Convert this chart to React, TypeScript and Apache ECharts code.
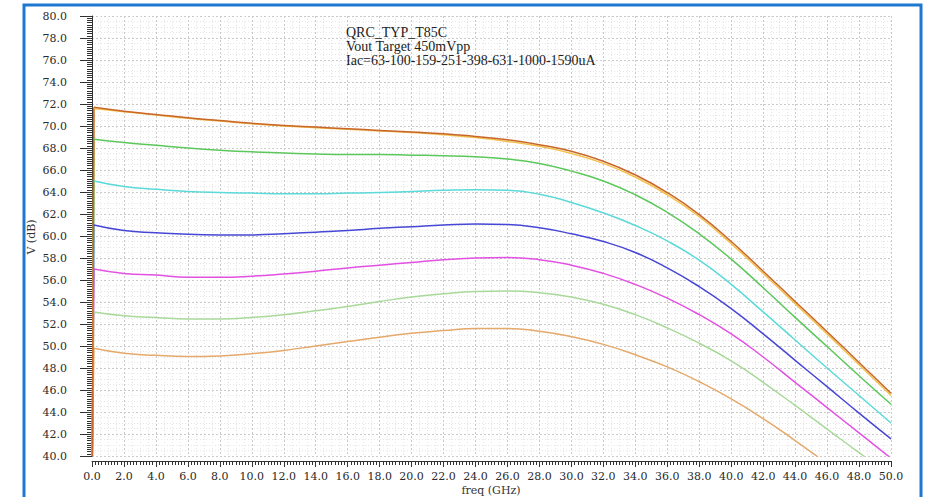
import React, { useEffect, useRef } from "react";
import * as echarts from "echarts";

// Frequency samples (GHz)
const freqGHz = [0, 2, 4, 6, 8, 10, 12, 14, 16, 18, 20, 22, 24, 26, 28, 30, 32, 34, 36, 38, 40, 42, 44, 46, 48, 50];
// DC step: rises from the bottom of the plot at dcStartFreq to the first value at dcStepFreq
const dcStartFreq = 0.02;
const dcStepFreq = 0.12;

// Gain (dB) per bias current
const iac63 = [49.8, 49.35, 49.15, 49.05, 49.1, 49.3, 49.6, 50.0, 50.4, 50.8, 51.15, 51.4, 51.6, 51.6, 51.35, 50.85, 50.15, 49.2, 48.1, 46.75, 45.2, 43.4, 41.4, 39.3, 37.2, 35.1];
const iac100 = [53.1, 52.75, 52.6, 52.45, 52.45, 52.6, 52.85, 53.2, 53.6, 54.05, 54.45, 54.75, 54.95, 55.0, 54.85, 54.45, 53.8, 52.85, 51.65, 50.25, 48.65, 46.7, 44.6, 42.45, 40.3, 38.2];
const iac159 = [57.0, 56.6, 56.45, 56.25, 56.25, 56.35, 56.55, 56.8, 57.1, 57.35, 57.6, 57.85, 58.0, 58.05, 57.85, 57.35, 56.6, 55.6, 54.35, 52.85, 51.1, 49.0, 46.7, 44.4, 42.1, 39.8];
const iac251 = [61.0, 60.5, 60.3, 60.15, 60.1, 60.1, 60.2, 60.35, 60.5, 60.7, 60.85, 61.0, 61.1, 61.05, 60.75, 60.2, 59.5, 58.5, 57.1, 55.4, 53.4, 51.1, 48.7, 46.3, 43.9, 41.55];
const iac398 = [65.0, 64.5, 64.25, 64.05, 63.95, 63.9, 63.85, 63.85, 63.9, 63.95, 64.05, 64.15, 64.2, 64.15, 63.8, 63.05, 62.1, 60.95, 59.55, 57.8, 55.6, 53.1, 50.55, 48.0, 45.5, 43.0];
const iac631 = [68.8, 68.5, 68.25, 68.0, 67.8, 67.65, 67.55, 67.45, 67.4, 67.4, 67.35, 67.3, 67.2, 67.0, 66.6, 65.9, 65.0, 63.75, 62.15, 60.2, 57.9, 55.3, 52.6, 49.95, 47.3, 44.7];
const iac1000 = [71.6, 71.3, 71.0, 70.7, 70.45, 70.2, 70.0, 69.85, 69.7, 69.55, 69.4, 69.2, 68.95, 68.6, 68.15, 67.5, 66.6, 65.35, 63.75, 61.75, 59.3, 56.6, 53.85, 51.1, 48.3, 45.5];
const iac1590 = [71.7, 71.35, 71.05, 70.75, 70.5, 70.25, 70.05, 69.9, 69.75, 69.6, 69.45, 69.3, 69.05, 68.75, 68.3, 67.7, 66.8, 65.55, 63.95, 61.95, 59.5, 56.8, 54.05, 51.3, 48.5, 45.7];

const seriesNames = ["63uA", "100uA", "159uA", "251uA", "398uA", "631uA", "1000uA", "1590uA"];
const seriesValues = [iac63, iac100, iac159, iac251, iac398, iac631, iac1000, iac1590];
const seriesColors = ["#e5a96b", "#a9d99a", "#e251e2", "#4747d6", "#5cd9d9", "#5cc85c", "#f3c14e", "#c9672b"];

const xMin = 0, xMax = 50, xStep = 2;
const yMin = 40, yMax = 80, yStep = 2;

const annotationLines = ["QRC_TYP_T85C", "Vout Target 450mVpp", "Iac=63-100-159-251-398-631-1000-1590uA"];
const xTitle = "freq (GHz)";
const yTitle = "V (dB)";

const tickFont = "DejaVu Serif";
const fmt = (v: number) => v.toFixed(1);

export default function App() {
  const ref = useRef<HTMLDivElement>(null);
  useEffect(() => {
    if (!ref.current) return;
    const chart = echarts.init(ref.current, undefined, { renderer: "svg" });
    const stepSeries: any[] = seriesValues.map((vals, i) => ({
      name: seriesNames[i] + " DC",
      type: "line",
      xAxisIndex: 0,
      yAxisIndex: 0,
      data: [
        [dcStartFreq, yMin],
        [dcStepFreq, vals[0]],
      ],
      smooth: false,
      showSymbol: false,
      symbol: "none",
      clip: true,
      silent: true,
      lineStyle: { color: seriesColors[i], width: 1.5 },
      itemStyle: { color: seriesColors[i] },
    }));
    const curveSeries: any[] = seriesValues.map((vals, i) => ({
      name: seriesNames[i],
      type: "line",
      xAxisIndex: 0,
      yAxisIndex: 0,
      data: freqGHz.map((f, k) => [k === 0 ? dcStepFreq : f, vals[k]]),
      smooth: true,
      showSymbol: false,
      symbol: "none",
      clip: true,
      lineStyle: { color: seriesColors[i], width: 1.5 },
      itemStyle: { color: seriesColors[i] },
    }));

    chart.setOption({
      animation: false,
      backgroundColor: "#ffffff",
      grid: { left: 92, top: 16, width: 799, height: 440, outerBoundsMode: "none" },
      xAxis: [
        {
          type: "value",
          min: xMin,
          max: xMax,
          interval: xStep,
          axisLine: { show: false },
          axisTick: { show: false },
          axisLabel: { show: false },
          splitLine: { show: true, lineStyle: { color: "#cacaca", width: 1, type: [2, 2] } },
          minorTick: { show: false, splitNumber: 4 },
          minorSplitLine: { show: true, lineStyle: { color: "#e6e6e6", width: 1, type: [1, 2] } },
        },
        {
          type: "value",
          min: xMin,
          max: xMax,
          interval: xStep,
          position: "bottom",
          offset: 5,
          axisLine: { show: true, lineStyle: { color: "#333", width: 1 } },
          axisTick: { show: true, length: 6, lineStyle: { color: "#333" } },
          minorTick: { show: true, splitNumber: 10, length: 4, lineStyle: { color: "#333" } },
          splitLine: { show: false },
          axisLabel: { show: true, formatter: fmt, margin: 10, color: "#2a2a2a", fontFamily: tickFont, fontSize: 11 },
        },
      ],
      yAxis: [
        {
          type: "value",
          min: yMin,
          max: yMax,
          interval: yStep,
          axisLine: { show: false },
          axisTick: { show: false },
          axisLabel: { show: false },
          splitLine: { show: true, lineStyle: { color: "#cacaca", width: 1, type: [2, 2] } },
          minorTick: { show: false, splitNumber: 4 },
          minorSplitLine: { show: true, lineStyle: { color: "#e6e6e6", width: 1, type: [1, 2] } },
        },
        {
          type: "value",
          min: yMin,
          max: yMax,
          interval: yStep,
          position: "left",
          offset: 11,
          axisLine: { show: true, lineStyle: { color: "#333", width: 1 } },
          axisTick: { show: true, length: 12, lineStyle: { color: "#333" } },
          minorTick: { show: true, splitNumber: 10, length: 5, lineStyle: { color: "#333" } },
          splitLine: { show: false },
          axisLabel: { show: true, formatter: fmt, margin: 14, color: "#2a2a2a", fontFamily: tickFont, fontSize: 11 },
        },
      ],
      series: [...stepSeries, ...curveSeries],
      graphic: [
        {
          type: "rect",
          silent: true,
          z: 100,
          shape: { x: 24, y: 5, width: 897, height: 520 },
          style: { fill: "none", stroke: "#1e78d2", lineWidth: 3 },
        },
        ...annotationLines.map((t, i) => ({
          type: "text",
          silent: true,
          z: 100,
          x: 346,
          y: 32 + i * 14,
          style: {
            text: t,
            fill: "#222",
            font: "14px 'Liberation Serif'",
            textAlign: "left",
            textVerticalAlign: "middle",
          },
        })),
        {
          type: "text",
          silent: true,
          x: 491,
          y: 490,
          style: { text: xTitle, fill: "#333", font: "11px 'DejaVu Serif'", textAlign: "center", textVerticalAlign: "middle" },
        },
        {
          type: "text",
          silent: true,
          x: 31,
          y: 237,
          rotation: Math.PI / 2,
          style: { text: yTitle, fill: "#333", font: "11px 'DejaVu Serif'", textAlign: "center", textVerticalAlign: "middle" },
        },
      ],
    });
    return () => chart.dispose();
  }, []);
  return <div ref={ref} style={{ position: "fixed", left: 0, top: 0, width: 925, height: 497 }} />;
}
